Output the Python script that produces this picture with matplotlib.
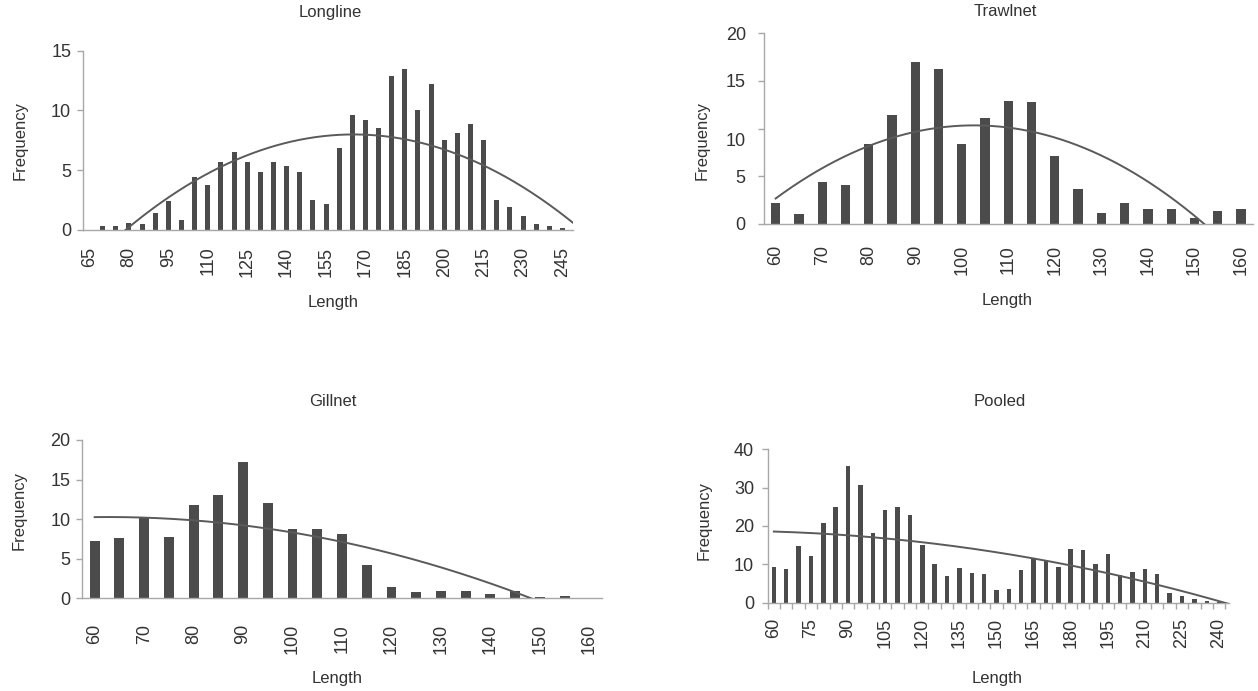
import numpy as np
import matplotlib
matplotlib.use("Agg")
import matplotlib.pyplot as plt
from matplotlib.ticker import FixedLocator

plt.rcParams['font.family'] = ['Liberation Sans', 'DejaVu Sans']

# ---------------- data ----------------
longline_len = [65, 70, 75, 80, 85, 90, 95, 100, 105, 110, 115, 120, 125, 130, 135, 140,
                145, 150, 155, 160, 165, 170, 175, 180, 185, 190, 195, 200, 205, 210,
                215, 220, 225, 230, 235, 240, 245]
longline_freq = [0, 0.3, 0.3, 0.6, 0.5, 1.45, 2.45, 0.85, 4.45, 3.75, 5.7, 6.5, 5.7, 4.85,
                 5.7, 5.35, 4.85, 2.55, 2.15, 6.9, 9.65, 9.2, 8.5, 12.9, 13.5, 10.0, 12.2,
                 7.55, 8.15, 8.85, 7.55, 2.55, 1.9, 1.2, 0.5, 0.3, 0.2]

trawl_len = [60, 65, 70, 75, 80, 85, 90, 95, 100, 105, 110, 115, 120, 125, 130, 135,
             140, 145, 150, 155, 160]
trawl_freq = [2.2, 1.1, 4.4, 4.1, 8.4, 11.4, 17.0, 16.3, 8.4, 11.1, 12.9, 12.8, 7.1, 3.7,
              1.2, 2.2, 1.6, 1.6, 0.6, 1.4, 1.6]

gill_len = [60, 65, 70, 75, 80, 85, 90, 95, 100, 105, 110, 115, 120, 125, 130, 135,
            140, 145, 150, 155, 160]
gill_freq = [7.2, 7.6, 10.2, 7.8, 11.8, 13.0, 17.2, 12.0, 8.8, 8.7, 8.1, 4.2, 1.4, 0.8,
             0.9, 0.9, 0.6, 0.9, 0.2, 0.25, 0.1]

pooled_len = [60, 65, 70, 75, 80, 85, 90, 95, 100, 105, 110, 115, 120, 125, 130, 135,
              140, 145, 150, 155, 160, 165, 170, 175, 180, 185, 190, 195, 200, 205, 210,
              215, 220, 225, 230, 235, 240]
pooled_freq = [9.4, 8.7, 14.9, 12.3, 20.7, 24.9, 35.7, 30.7, 18.1, 24.1, 24.9, 22.8, 15.0,
               10.1, 7.0, 9.0, 7.8, 7.6, 3.3, 3.7, 8.5, 11.6, 11.0, 9.2, 14.0, 13.7, 10.1,
               12.7, 7.2, 8.1, 8.7, 7.5, 2.4, 1.65, 1.0, 0.35, 0.25]

BAR = '#4b4b4b'
LINE = '#5a5a5a'
SPINE = '#a8a8a8'
TEXT = '#333333'

W, H = 1258, 691
fig = plt.figure(figsize=(W / 100, H / 100), dpi=100)


def rect(l, r, t, b):
    return [l / W, 1 - b / H, (r - l) / W, (b - t) / H]


def panel(r, cats, freq, ymax, ystep, every, bar_w, xpad, ypad, right_extra=0.0,
          between_ticks=False, hide_label=None):
    ax = fig.add_axes(r)
    idx = np.arange(len(cats))
    ax.bar(idx, freq, width=bar_w, color=BAR, zorder=2)
    right = len(cats) - 0.5 + right_extra
    coef = np.polyfit(idx, freq, 2)
    xs = np.linspace(0, right, 800)
    ax.plot(xs, np.polyval(coef, xs), color=LINE, lw=1.4, zorder=3)
    ax.set_xlim(-0.5, right)
    ax.set_ylim(0, ymax)
    for s in ('top', 'right'):
        ax.spines[s].set_visible(False)
    for s in ('left', 'bottom'):
        ax.spines[s].set_color(SPINE)
        ax.spines[s].set_linewidth(1.0)
    yt = list(range(0, ymax + 1, ystep))
    ax.set_yticks(yt)
    ax.set_yticklabels(['' if (hide_label is not None and v == hide_label) else str(v)
                        for v in yt])
    ax.tick_params(axis='y', direction='out', length=4.5, width=1, color=SPINE,
                   labelcolor=TEXT, labelsize=13, pad=ypad)
    ax.set_xticks(idx[::every])
    ax.set_xticklabels([str(c) for c in cats[::every]], rotation=90)
    ax.tick_params(axis='x', which='major', length=0, labelcolor=TEXT,
                   labelsize=13, pad=xpad)
    if between_ticks:
        ax.xaxis.set_minor_locator(FixedLocator(np.arange(len(cats) + 1) - 0.5))
        ax.tick_params(axis='x', which='minor', direction='out', length=4, width=1,
                       color=SPINE)
    return ax


ax1 = panel(rect(83, 573, 50.7, 230), longline_len, longline_freq, 15, 5, 3,
            0.38, 12, 4, right_extra=0.3)
ax2 = panel(rect(764, 1252.6, 33.3, 224), trawl_len, trawl_freq, 20, 5, 2,
            0.4, 15, 8.6, hide_label=10)
ax2.annotate('10', xy=(0, 8.7), xycoords=('axes fraction', 'data'),
             xytext=(-13.1, 0), textcoords='offset points', ha='right', va='center',
             fontsize=13, color=TEXT)
ax3 = panel(rect(82.3, 601.7, 440, 598.3), gill_len, gill_freq, 20, 5, 2,
            0.4, 18.5, 4)
ax4 = panel(rect(767.7, 1229, 449.3, 602.7), pooled_len, pooled_freq, 40, 10, 3,
            0.36, 11, 5.3, right_extra=0.3, between_ticks=True)


def ftext(x, y, s, **kw):
    fig.text(x / W, 1 - y / H, s, ha='center', va='center', fontsize=12,
             color=TEXT, **kw)


ftext(330, 12, 'Longline')
ftext(1005, 11, 'Trawlnet')
ftext(333, 402, 'Gillnet')
ftext(1000, 402, 'Pooled')

ftext(333, 302, 'Length')
ftext(1007, 300, 'Length')
ftext(337, 679, 'Length')
ftext(997, 679, 'Length')

ftext(20, 140, 'Frequency', rotation=90)
ftext(702, 140, 'Frequency', rotation=90)
ftext(19, 510, 'Frequency', rotation=90)
ftext(704, 520, 'Frequency', rotation=90)

fig.savefig('out.png', dpi=100)
